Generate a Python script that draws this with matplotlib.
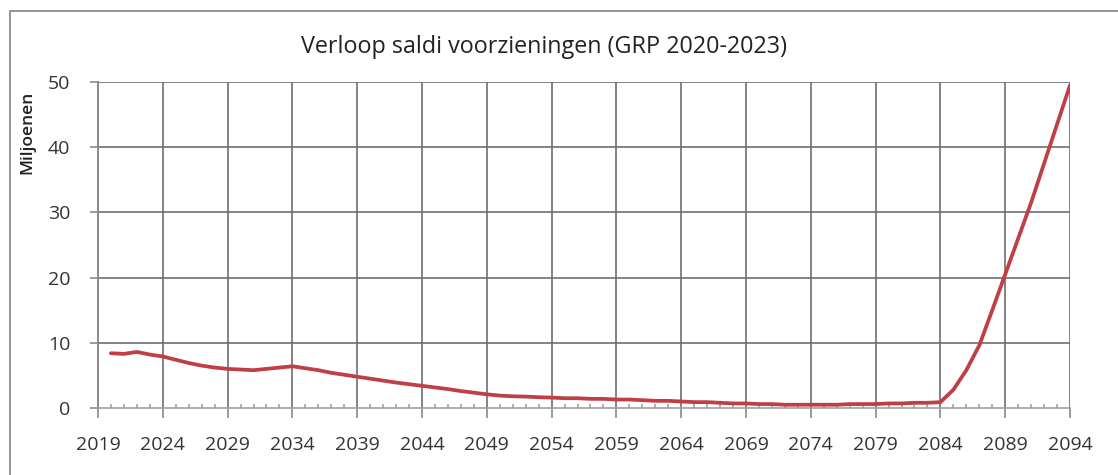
import matplotlib
matplotlib.use("Agg")
import matplotlib.pyplot as plt
from matplotlib.patches import Rectangle
from matplotlib.ticker import MultipleLocator

plt.rcParams['font.family'] = ['Open Sans', 'DejaVu Sans']

years = list(range(2020, 2095))
saldo = [
    8.4, 8.3, 8.6, 8.2, 7.9, 7.4, 6.9, 6.5, 6.2, 6.0,      # 2020-2029
    5.9, 5.8, 6.0, 6.2, 6.4, 6.1, 5.8, 5.4, 5.1, 4.8,      # 2030-2039
    4.5, 4.2, 3.9, 3.65, 3.4, 3.15, 2.9, 2.6, 2.35, 2.1,   # 2040-2049
    1.9, 1.8, 1.75, 1.65, 1.6, 1.5, 1.5, 1.4, 1.4, 1.3,    # 2050-2059
    1.3, 1.2, 1.1, 1.1, 1.0, 0.9, 0.9, 0.8, 0.7, 0.7,      # 2060-2069
    0.6, 0.6, 0.5, 0.5, 0.5, 0.5, 0.5, 0.6, 0.6, 0.6,      # 2070-2079
    0.7, 0.7, 0.8, 0.8, 0.9, 2.8, 5.8, 9.6, 15.0, 20.5,    # 2080-2089
    26.0, 31.5, 37.5, 43.5, 49.5,                          # 2090-2094
]
x_ticks = list(range(2019, 2095, 5))
y_ticks = [0, 10, 20, 30, 40, 50]

title = "Verloop saldi voorzieningen (GRP 2020-2023)"
y_label = "Miljoenen"

W, H = 1118, 475
fig = plt.figure(figsize=(W / 100, H / 100), dpi=100)
fig.patch.set_facecolor("white")

# chart border
fig.add_artist(Rectangle((10 / W, -0.05), 1.2, 1 - 11 / H + 0.05,
                         transform=fig.transFigure, fill=False,
                         edgecolor="#8c8c8c", linewidth=1.3))

ax = fig.add_axes([98 / W, 1 - 408 / H, (1070 - 98) / W, (408 - 82) / H])

grid_col = "#6e6e6e"
for yv in y_ticks[1:]:
    ax.axhline(yv, color=grid_col, linewidth=1.2, zorder=1)
for xv in x_ticks[1:]:
    ax.axvline(xv, color=grid_col, linewidth=1.2, zorder=1)

ax.plot(years, saldo, color="#bf3f44", linewidth=2.7,
        solid_joinstyle="round", solid_capstyle="round", zorder=3)

ax.set_xlim(2019, 2094)
ax.set_ylim(0, 50)
ax.set_xticks(x_ticks)
ax.set_yticks(y_ticks)
ax.xaxis.set_minor_locator(MultipleLocator(1))

for s in ("top", "right"):
    ax.spines[s].set_visible(False)
ax.spines["left"].set_color("#8a8a8a")
ax.spines["left"].set_linewidth(1.4)
ax.spines["bottom"].set_color("#a0a0a0")
ax.spines["bottom"].set_linewidth(1.2)

ax.tick_params(axis="x", which="major", length=7, width=1.2, color="#8a8a8a",
               pad=13, labelsize=14, labelcolor="#333333")
ax.tick_params(axis="x", which="minor", direction="in", length=3, width=1.1,
               color="#9a9a9a")
ax.tick_params(axis="y", which="major", length=6, width=1.2, color="#8a8a8a",
               pad=14, labelsize=14, labelcolor="#333333")

fig.text(544 / W, 1 - 47 / H, title, ha="center", va="center",
         fontsize=16.8, color="#222222")
fig.text(27 / W, 1 - 132 / H, y_label, rotation=90, ha="center", va="center",
         fontsize=12.5, color="#222222", fontweight="semibold")

fig.savefig("out.png", dpi=100, facecolor="white")
